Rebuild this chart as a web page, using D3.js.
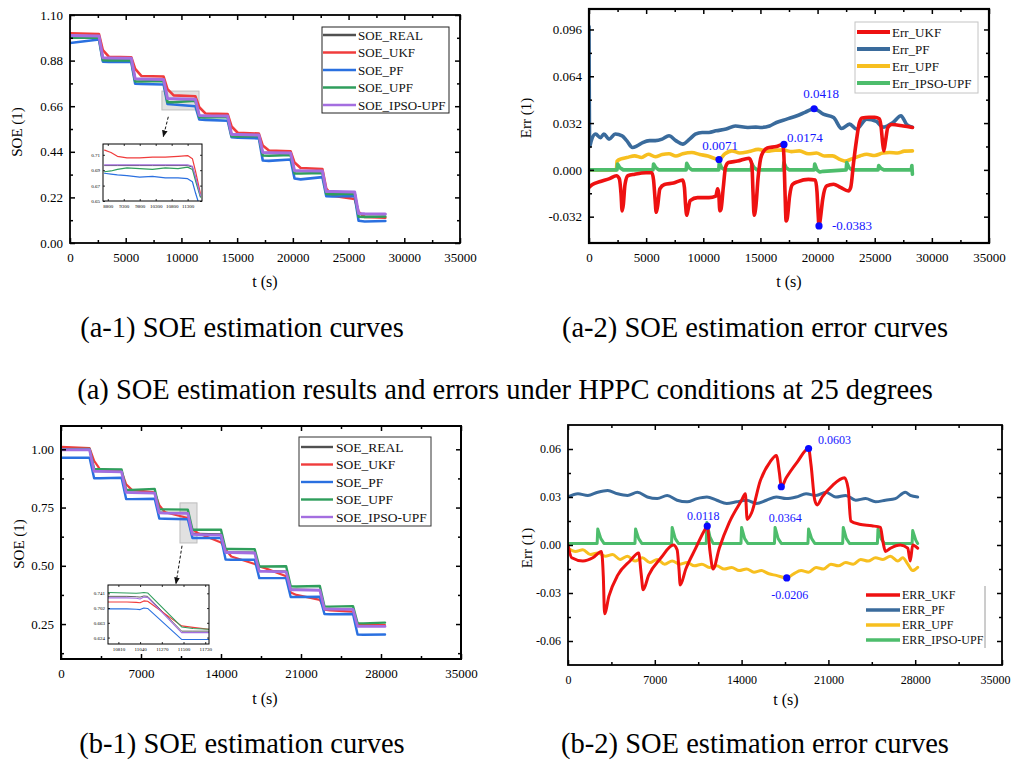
<!DOCTYPE html>
<html>
<head>
<meta charset="utf-8">
<script src="https://cdn.jsdelivr.net/npm/d3@7"></script>
<style>
  body { margin: 0; background: #fff; }
</style>
</head>
<body>
<div id="chart"></div>
<script>
'use strict';

// ---------- (a-1) SOE curves, HPPC 25 degrees ----------
const a1Time = [0, 2600, 2950, 3500, 5500, 5850, 6400, 8400, 8750, 9300, 11250, 11600, 12150, 14150, 14500, 15050, 16950, 17300, 17850, 19800, 20150, 20700, 22650, 23000, 23550, 25550, 25900, 26450, 28300];
const a1Real = [1.000, 0.998, 0.893, 0.892, 0.890, 0.791, 0.790, 0.788, 0.696, 0.695, 0.693, 0.614, 0.613, 0.612, 0.523, 0.522, 0.520, 0.436, 0.435, 0.433, 0.348, 0.347, 0.346, 0.248, 0.247, 0.245, 0.141, 0.140, 0.139];
const a1Ukf  = [1.012, 1.008, 0.930, 0.898, 0.896, 0.840, 0.806, 0.803, 0.742, 0.712, 0.708, 0.655, 0.625, 0.622, 0.562, 0.532, 0.528, 0.470, 0.446, 0.442, 0.388, 0.362, 0.357, 0.262, 0.228, 0.212, 0.150, 0.126, 0.122];
const a1Pf   = [0.965, 0.982, 0.875, 0.873, 0.873, 0.768, 0.767, 0.765, 0.671, 0.668, 0.660, 0.596, 0.594, 0.590, 0.511, 0.508, 0.505, 0.398, 0.396, 0.403, 0.311, 0.307, 0.318, 0.226, 0.224, 0.227, 0.107, 0.104, 0.106];
const a1Upf  = [0.990, 0.990, 0.882, 0.881, 0.882, 0.780, 0.779, 0.782, 0.679, 0.679, 0.686, 0.607, 0.606, 0.608, 0.515, 0.514, 0.516, 0.422, 0.421, 0.425, 0.336, 0.335, 0.338, 0.237, 0.236, 0.238, 0.127, 0.126, 0.128];
const a1Ipso = [1.001, 0.999, 0.894, 0.893, 0.891, 0.792, 0.791, 0.789, 0.697, 0.696, 0.694, 0.615, 0.614, 0.613, 0.524, 0.523, 0.521, 0.437, 0.436, 0.434, 0.349, 0.348, 0.347, 0.249, 0.248, 0.246, 0.142, 0.141, 0.140];

// zoomed window of (a-1)
const a1InsetTime = [8700, 8900, 9100, 9400, 9800, 10200, 10600, 11000, 11300, 11450, 11550, 11700];
const a1InsetReal = [0.696, 0.696, 0.696, 0.696, 0.696, 0.696, 0.696, 0.696, 0.696, 0.694, 0.680, 0.656];
const a1InsetUkf  = [0.716, 0.713, 0.708, 0.706, 0.706, 0.707, 0.707, 0.708, 0.709, 0.705, 0.688, 0.660];
const a1InsetPf   = [0.686, 0.685, 0.684, 0.683, 0.681, 0.682, 0.680, 0.680, 0.679, 0.675, 0.660, 0.640];
const a1InsetUpf  = [0.688, 0.689, 0.691, 0.693, 0.692, 0.691, 0.693, 0.692, 0.694, 0.691, 0.676, 0.655];
const a1InsetIpso = [0.697, 0.697, 0.697, 0.697, 0.697, 0.697, 0.697, 0.697, 0.697, 0.695, 0.681, 0.657];

// ---------- (a-2) SOE errors, HPPC 25 degrees ----------
const a2UkfTime = [0, 300, 1000, 1800, 2400, 2650, 2800, 2900, 3000, 3150, 3400, 4000, 5000, 5500, 5650, 5780, 5880, 6000, 6200, 6600, 7400, 8200, 8350, 8450, 8550, 8650, 8850, 9500, 10500, 11100, 11250, 11350, 11450, 11550, 11750, 11950, 12200, 13000, 14000, 14250, 14350, 14450, 14600, 14800, 15100, 15600, 16400, 16950, 17050, 17150, 17250, 17350, 17550, 17800, 18300, 19200, 19800, 19950, 20050, 20125, 20250, 20450, 20800, 21400, 22000, 22700, 22900, 23150, 23400, 23650, 23900, 24500, 25000, 25400, 25550, 25700, 25800, 25950, 26150, 26500, 27500, 28300];
const a2Ukf = [-0.012, -0.010, -0.008, -0.006, -0.004, -0.006, -0.016, -0.028, -0.024, -0.010, -0.004, -0.003, -0.002, -0.002, -0.007, -0.020, -0.029, -0.025, -0.013, -0.010, -0.009, -0.007, -0.012, -0.024, -0.031, -0.028, -0.021, -0.019, -0.019, -0.018, -0.013, -0.016, -0.028, -0.027, -0.012, 0.002, 0.005, 0.006, 0.008, 0.004, -0.015, -0.031, -0.025, -0.005, 0.010, 0.015, 0.016, 0.0174, 0.010, -0.015, -0.035, -0.033, -0.018, -0.010, -0.008, -0.0065, -0.007, -0.015, -0.030, -0.0383, -0.033, -0.020, -0.011, -0.0098, -0.012, -0.0144, -0.012, 0.005, 0.020, 0.032, 0.0355, 0.036, 0.036, 0.035, 0.030, 0.018, 0.013, 0.020, 0.029, 0.031, 0.030, 0.029];
const a2PfTime = [0, 60, 200, 580, 1000, 1300, 1750, 2300, 2900, 3300, 3800, 4200, 4700, 5300, 5800, 6400, 7000, 7600, 8200, 8800, 9300, 9900, 10500, 11100, 12000, 12800, 13900, 14600, 15000, 15800, 16400, 17300, 18200, 18900, 19700, 20500, 21400, 22100, 22800, 23400, 24300, 25150, 25700, 26600, 27300, 27800, 28300];
const a2Pf = [0.098, 0.016, 0.020, 0.0245, 0.022, 0.0245, 0.021, 0.0245, 0.0233, 0.020, 0.0153, 0.0164, 0.0187, 0.020, 0.020, 0.021, 0.0233, 0.020, 0.0176, 0.021, 0.0244, 0.0256, 0.0256, 0.0267, 0.0279, 0.030, 0.029, 0.0292, 0.029, 0.030, 0.0324, 0.0347, 0.037, 0.0393, 0.0418, 0.0381, 0.0358, 0.0283, 0.0313, 0.0279, 0.0347, 0.0331, 0.0292, 0.0324, 0.037, 0.031, 0.0292];
const a2UpfTime = [0, 2400, 2450, 2800, 3300, 4000, 4600, 5200, 5800, 6400, 7000, 7600, 8200, 9000, 9700, 10400, 11000, 11375, 11900, 12500, 13200, 14000, 14800, 15600, 16300, 17060, 17700, 18400, 19200, 19900, 20600, 21300, 22000, 22400, 23000, 23700, 24300, 25000, 25700, 26300, 27000, 27600, 28300];
const a2Upf = [0, 0, 0.006, 0.0075, 0.0084, 0.0096, 0.0085, 0.0107, 0.009, 0.0105, 0.011, 0.0095, 0.011, 0.0119, 0.0105, 0.0095, 0.0078, 0.0071, 0.011, 0.013, 0.0115, 0.0125, 0.014, 0.0128, 0.0135, 0.0135, 0.0125, 0.013, 0.011, 0.0115, 0.0095, 0.0096, 0.007, 0.006, 0.0075, 0.0095, 0.0107, 0.0098, 0.0115, 0.0119, 0.0115, 0.0128, 0.013];
const a2IpsoTime = [0, 2450, 2500, 2700, 3000, 5600, 5650, 5850, 6100, 8500, 8550, 8750, 9000, 11350, 11400, 11600, 11900, 14200, 14250, 14450, 14700, 17000, 17050, 17250, 17500, 19700, 19750, 19950, 20200, 20500, 22500, 22550, 22750, 23000, 25300, 25350, 25550, 25800, 28200, 28250, 28300];
const a2Ipso = [0, 0, 0.004, 0.0015, 0, 0, 0.004, 0.0015, 0, 0, 0.0045, 0.0015, 0, 0, 0.005, 0.0015, 0, 0, 0.004, 0.0015, 0, 0, 0.005, 0.0015, 0, 0, 0.004, 0, -0.0015, -0.001, 0, 0.005, 0.0015, 0, 0, 0.003, 0.001, 0, 0, 0.003, -0.003];
const a2MarkTime = [11375, 17060, 19700, 20125];
const a2MarkVal = [0.0071, 0.0174, 0.0418, -0.0383];

// ---------- (b-1) SOE curves ----------
const b1Time = [0, 2500, 2900, 3400, 5300, 5700, 6200, 8200, 8600, 9100, 11100, 11500, 12000, 14000, 14400, 14900, 16950, 17350, 17850, 19700, 20100, 20600, 22650, 23050, 23550, 25550, 25950, 26450, 28350];
const b1Real = [1.000, 0.999, 0.906, 0.905, 0.903, 0.816, 0.815, 0.813, 0.730, 0.729, 0.728, 0.639, 0.638, 0.636, 0.560, 0.559, 0.557, 0.479, 0.478, 0.476, 0.400, 0.399, 0.397, 0.317, 0.316, 0.315, 0.243, 0.242, 0.242];
const b1Ukf  = [1.010, 1.005, 0.950, 0.915, 0.905, 0.850, 0.826, 0.815, 0.760, 0.730, 0.705, 0.655, 0.640, 0.600, 0.570, 0.540, 0.508, 0.497, 0.490, 0.455, 0.385, 0.375, 0.354, 0.312, 0.309, 0.303, 0.250, 0.247, 0.245];
const b1Pf   = [0.964, 0.964, 0.876, 0.876, 0.878, 0.787, 0.786, 0.788, 0.703, 0.702, 0.700, 0.619, 0.619, 0.620, 0.527, 0.526, 0.526, 0.447, 0.447, 0.447, 0.366, 0.366, 0.367, 0.293, 0.292, 0.293, 0.205, 0.204, 0.205];
const b1Upf  = [1.000, 1.001, 0.915, 0.915, 0.913, 0.826, 0.826, 0.830, 0.742, 0.742, 0.741, 0.655, 0.655, 0.655, 0.572, 0.572, 0.571, 0.497, 0.497, 0.498, 0.412, 0.411, 0.413, 0.326, 0.325, 0.327, 0.254, 0.253, 0.256];
const b1Ipso = [0.998, 0.998, 0.905, 0.905, 0.903, 0.815, 0.814, 0.812, 0.727, 0.726, 0.725, 0.635, 0.634, 0.632, 0.557, 0.557, 0.555, 0.476, 0.476, 0.474, 0.397, 0.397, 0.395, 0.314, 0.314, 0.313, 0.240, 0.240, 0.240];

const b1InsetTime = [10700, 10900, 11000, 11040, 11080, 11120, 11480, 11600, 11770];
const b1InsetReal = [0.733, 0.733, 0.732, 0.731, 0.734, 0.733, 0.641, 0.641, 0.641];
const b1InsetUkf  = [0.718, 0.718, 0.717, 0.716, 0.721, 0.720, 0.655, 0.651, 0.646];
const b1InsetPf   = [0.700, 0.700, 0.699, 0.698, 0.702, 0.701, 0.619, 0.619, 0.619];
const b1InsetUpf  = [0.743, 0.742, 0.741, 0.742, 0.743, 0.742, 0.652, 0.648, 0.646];
const b1InsetIpso = [0.729, 0.729, 0.728, 0.726, 0.731, 0.730, 0.637, 0.637, 0.637];

// ---------- (b-2) SOE errors ----------
const b2UkfTime = [0, 300, 1200, 2000, 2700, 2850, 2950, 3300, 4000, 5000, 5700, 5900, 6060, 6500, 7500, 8500, 8800, 8950, 9050, 9500, 10300, 11000, 11230, 11450, 11700, 12200, 13000, 14000, 14300, 14450, 14800, 15500, 16300, 16800, 17050, 17200, 17600, 18500, 19400, 19600, 19900, 20100, 20500, 21300, 22300, 22600, 22800, 23500, 24500, 25200, 25400, 25600, 26000, 26800, 27400, 27600, 27800, 28200];
const b2Ukf = [0.0, -0.008, -0.010, -0.008, -0.004, -0.020, -0.043, -0.032, -0.019, -0.010, -0.005, -0.018, -0.028, -0.019, -0.008, 0.0, -0.003, -0.015, -0.025, -0.015, -0.002, 0.009, 0.0118, -0.004, -0.015, -0.002, 0.014, 0.028, 0.032, 0.016, 0.020, 0.040, 0.052, 0.056, 0.045, 0.0364, 0.042, 0.052, 0.0603, 0.050, 0.028, 0.025, 0.030, 0.037, 0.042, 0.035, 0.015, 0.013, 0.012, 0.011, 0.002, -0.004, -0.002, 0.0, -0.002, -0.010, 0.0, -0.002];
const b2PfTime = [0, 800, 1600, 2400, 3200, 4000, 4800, 5600, 6400, 7200, 8000, 8800, 9600, 10400, 11200, 12000, 12800, 13600, 14400, 15200, 16000, 16800, 17600, 18400, 19200, 20000, 20800, 21600, 22400, 23200, 24000, 24800, 25600, 26400, 27200, 27600, 28200];
const b2Pf = [0.030, 0.032, 0.031, 0.033, 0.034, 0.032, 0.031, 0.033, 0.030, 0.029, 0.031, 0.028, 0.027, 0.029, 0.030, 0.028, 0.026, 0.027, 0.028, 0.026, 0.028, 0.030, 0.029, 0.030, 0.032, 0.031, 0.033, 0.030, 0.031, 0.028, 0.029, 0.027, 0.028, 0.029, 0.033, 0.031, 0.030];
const b2UpfTime = [0, 600, 1200, 1800, 2400, 3000, 3600, 4200, 4800, 5400, 6000, 6600, 7200, 7800, 8400, 9000, 9600, 10200, 10800, 11400, 12000, 12600, 13200, 13800, 14400, 15000, 15600, 16200, 16800, 17640, 18200, 18800, 19400, 20000, 20600, 21200, 21800, 22400, 23000, 23600, 24200, 24800, 25400, 26000, 26600, 27000, 27400, 27800, 28200];
const b2Upf = [-0.002, -0.004, -0.003, -0.006, -0.005, -0.007, -0.006, -0.009, -0.007, -0.010, -0.008, -0.011, -0.009, -0.012, -0.010, -0.012, -0.011, -0.013, -0.012, -0.014, -0.013, -0.015, -0.014, -0.016, -0.015, -0.017, -0.016, -0.018, -0.019, -0.0206, -0.018, -0.016, -0.017, -0.014, -0.015, -0.012, -0.013, -0.011, -0.012, -0.009, -0.010, -0.008, -0.009, -0.007, -0.010, -0.008, -0.012, -0.016, -0.014];
const b2IpsoTime = [0, 2350, 2400, 2650, 2900, 5400, 5450, 5700, 5950, 8350, 8400, 8650, 8900, 11150, 11200, 11450, 11700, 13950, 14000, 14250, 14500, 16650, 16700, 16950, 17200, 19350, 19400, 19650, 19900, 22150, 22200, 22450, 22700, 24950, 25000, 25250, 25500, 27750, 27800, 28050, 28200];
const b2Ipso = [0.001, 0.001, 0.010, 0.004, 0.001, 0.001, 0.010, 0.004, 0.001, 0.001, 0.011, 0.004, 0.001, 0.001, 0.014, 0.005, 0.001, 0.001, 0.011, 0.004, 0.001, 0.001, 0.011, 0.004, 0.001, 0.001, 0.010, 0.004, 0.001, 0.001, 0.011, 0.004, 0.001, 0.001, 0.010, 0.004, 0.001, 0.001, 0.009, 0.003, 0.001];
const b2MarkTime = [11230, 17200, 19400, 17640];
const b2MarkVal = [0.0118, 0.0364, 0.0603, -0.0206];

// legend names and colours
const soeNames = ['SOE_REAL', 'SOE_UKF', 'SOE_PF', 'SOE_UPF', 'SOE_IPSO-UPF'];
const soeColors = ['#505050', '#f03c3c', '#2a70e0', '#2f9e5c', '#a46ee0'];
const a2Names = ['Err_UKF', 'Err_PF', 'Err_UPF', 'Err_IPSO-UPF'];
const b2Names = ['ERR_UKF', 'ERR_PF', 'ERR_UPF', 'ERR_IPSO-UPF'];
const errColors = ['#ee1111', '#3a6b9c', '#f7bf1f', '#4dbd6c'];

const captions = ['(a-1) SOE estimation curves', '(a-2) SOE estimation error curves',
  '(a) SOE estimation results and errors under HPPC conditions at 25 degrees',
  '(b-1) SOE estimation curves', '(b-2) SOE estimation error curves'];

const SERIF = "'Liberation Serif', 'Times New Roman', serif";
const LABEL_BLUE = '#1515ff';

const svg = d3.select('#chart').append('svg')
  .attr('width', 1011).attr('height', 760)
  .attr('font-family', SERIF);
svg.append('rect').attr('width', 1011).attr('height', 760).attr('fill', '#fff');

const defs = svg.append('defs');
defs.append('marker').attr('id', 'arrow')
  .attr('viewBox', '0 0 10 10').attr('refX', 9).attr('refY', 5)
  .attr('markerWidth', 7).attr('markerHeight', 7).attr('orient', 'auto')
  .append('path').attr('d', 'M0,1 L10,5 L0,9 Z').attr('fill', '#111');

let clipCount = 0;
function makePanel(box, xDomain, yDomain) {
  const x = d3.scaleLinear().domain(xDomain).range([box.l, box.r]);
  const y = d3.scaleLinear().domain(yDomain).range([box.b, box.t]);
  const id = 'clip' + (clipCount++);
  defs.append('clipPath').attr('id', id).append('rect')
    .attr('x', box.l).attr('y', box.t).attr('width', box.r - box.l).attr('height', box.b - box.t);
  const root = svg.append('g');
  const plot = root.append('g').attr('clip-path', `url(#${id})`);
  return { x, y, box, root, plot };
}

function drawAxes(p, o) {
  const { x, y, box } = p;
  const g = p.root.append('g');
  const tk = o.tick, mt = o.minorTick, fs = o.fontSize, sw = o.sw;
  function add(axis, tx, ty) {
    const a = g.append('g').attr('transform', `translate(${tx},${ty})`).call(axis);
    a.select('.domain').remove();
    a.attr('font-family', SERIF).attr('font-size', fs);
    a.selectAll('line').attr('stroke', '#000').attr('stroke-width', sw);
    a.selectAll('text').attr('fill', '#000');
    return a;
  }
  const bottom = add(d3.axisBottom(x).tickValues(o.xMajor).tickSize(-tk).tickPadding(o.xPad).tickFormat(o.xFmt), 0, box.b);
  add(d3.axisTop(x).tickValues(o.xMajor).tickSize(-tk).tickFormat(''), 0, box.t);
  add(d3.axisLeft(y).tickValues(o.yMajor).tickSize(-tk).tickPadding(o.yPad).tickFormat(o.yFmt), box.l, 0);
  add(d3.axisRight(y).tickValues(o.yMajor).tickSize(-tk).tickFormat(''), box.r, 0);
  if (o.xMinor) {
    add(d3.axisBottom(x).tickValues(o.xMinor).tickSize(-mt).tickFormat(''), 0, box.b);
    add(d3.axisTop(x).tickValues(o.xMinor).tickSize(-mt).tickFormat(''), 0, box.t);
  }
  if (o.yMinor) {
    add(d3.axisLeft(y).tickValues(o.yMinor).tickSize(-mt).tickFormat(''), box.l, 0);
    add(d3.axisRight(y).tickValues(o.yMinor).tickSize(-mt).tickFormat(''), box.r, 0);
  }
  g.append('rect').attr('x', box.l).attr('y', box.t)
    .attr('width', box.r - box.l).attr('height', box.b - box.t)
    .attr('fill', 'none').attr('stroke', '#000').attr('stroke-width', o.frame);
  return bottom;
}

function drawSeries(p, ts, vs, color, width, curve) {
  const pts = ts.map((t, i) => [t, vs[i]]);
  p.plot.append('path').datum(pts)
    .attr('fill', 'none').attr('stroke', color).attr('stroke-width', width)
    .attr('stroke-linejoin', 'round').attr('stroke-linecap', 'round')
    .attr('d', d3.line().x(d => p.x(d[0])).y(d => p.y(d[1])).curve(curve || d3.curveLinear));
}

function axisTitles(p, xTitle, xPos, yTitle, yPos) {
  p.root.append('text').attr('x', xPos[0]).attr('y', xPos[1])
    .attr('text-anchor', 'middle').attr('font-size', 16).text(xTitle);
  p.root.append('text').attr('transform', `translate(${yPos[0]},${yPos[1]}) rotate(-90)`)
    .attr('text-anchor', 'middle').attr('font-size', 15).text(yTitle);
}

function drawLegend(names, colors, o) {
  const g = svg.append('g');
  if (o.box) {
    g.append('rect').attr('x', o.box[0]).attr('y', o.box[1])
      .attr('width', o.box[2] - o.box[0]).attr('height', o.box[3] - o.box[1])
      .attr('fill', '#fff').attr('stroke', o.stroke).attr('stroke-width', 1);
  }
  names.forEach((n, i) => {
    const yy = o.y0 + i * o.dy;
    g.append('line').attr('x1', o.lx[0]).attr('x2', o.lx[1]).attr('y1', yy).attr('y2', yy)
      .attr('stroke', colors[i]).attr('stroke-width', o.lw);
    g.append('text').attr('x', o.tx).attr('y', yy).attr('dy', '0.35em')
      .attr('font-size', o.fs).attr('fill', '#111').text(n);
  });
  return g;
}

function markPoints(p, ts, vs, offsets, fs) {
  ts.forEach((t, i) => {
    p.root.append('circle').attr('cx', p.x(t)).attr('cy', p.y(vs[i])).attr('r', 3.6).attr('fill', '#0a0aff');
    p.root.append('text').attr('x', p.x(t) + offsets[i][0]).attr('y', p.y(vs[i]) + offsets[i][1])
      .attr('text-anchor', 'middle').attr('font-size', fs).attr('fill', LABEL_BLUE)
      .text(vs[i].toFixed(4));
  });
}

const fmtInt = d3.format('d');
const fmtFix = n => (d => d.toFixed(n));

// ================= (a-1) =================
const a1 = makePanel({ l: 70, r: 460, t: 15, b: 243 }, [0, 35000], [0, 1.10]);
// highlighted zoom window
a1.plot.append('rect')
  .attr('x', a1.x(8250)).attr('y', a1.y(0.733))
  .attr('width', a1.x(11580) - a1.x(8250)).attr('height', a1.y(0.642) - a1.y(0.733))
  .attr('fill', '#d4d4d4').attr('fill-opacity', 0.7).attr('stroke', '#bdbdbd');
drawSeries(a1, a1Time, a1Real, soeColors[0], 2);
drawSeries(a1, a1Time, a1Ukf, soeColors[1], 2.6);
drawSeries(a1, a1Time, a1Pf, soeColors[2], 2.6);
drawSeries(a1, a1Time, a1Upf, soeColors[3], 2.6);
drawSeries(a1, a1Time, a1Ipso, soeColors[4], 3);
drawAxes(a1, {
  tick: 5, minorTick: 3, fontSize: 13, sw: 1.5, frame: 1.8, xPad: 10, yPad: 7,
  xMajor: d3.range(0, 35001, 5000), xMinor: d3.range(2500, 35000, 5000), xFmt: fmtInt,
  yMajor: [0, 0.22, 0.44, 0.66, 0.88, 1.10], yMinor: [0.11, 0.33, 0.55, 0.77, 0.99], yFmt: fmtFix(2)
});
axisTitles(a1, 't (s)', [265, 287], 'SOE (1)', [22, 132]);
a1.root.append('line')
  .attr('x1', a1.x(8822)).attr('y1', a1.y(0.609)).attr('x2', a1.x(8373)).attr('y2', a1.y(0.513))
  .attr('stroke', '#111').attr('stroke-width', 1).attr('stroke-dasharray', '3,2')
  .attr('marker-end', 'url(#arrow)');

// inset of (a-1)
const a1In = makePanel({ l: 103, r: 202, t: 144, b: 201 }, [8650, 11750], [0.65, 0.724]);
a1In.root.insert('rect', ':first-child').attr('x', 103).attr('y', 144).attr('width', 99).attr('height', 57).attr('fill', '#fff');
drawSeries(a1In, a1InsetTime, a1InsetReal, soeColors[0], 1);
drawSeries(a1In, a1InsetTime, a1InsetUkf, soeColors[1], 1.2);
drawSeries(a1In, a1InsetTime, a1InsetPf, soeColors[2], 1.2);
drawSeries(a1In, a1InsetTime, a1InsetUpf, soeColors[3], 1.2);
drawSeries(a1In, a1InsetTime, a1InsetIpso, soeColors[4], 1.2);
drawAxes(a1In, {
  tick: 2, minorTick: 1, fontSize: 5, sw: 0.8, frame: 1, xPad: 3, yPad: 3,
  xMajor: [8800, 9300, 9800, 10300, 10800, 11300], xFmt: fmtInt,
  yMajor: [0.65, 0.67, 0.69, 0.71], yFmt: fmtFix(2)
});

drawLegend(soeNames, soeColors, {
  box: [322, 27, 449, 113], stroke: '#222', y0: 35, dy: 17.5, lx: [323, 356], tx: 358, lw: 2.6, fs: 13
});

// ================= (a-2) =================
const a2 = makePanel({ l: 589, r: 989, t: 9, b: 243 }, [0, 35000], [-0.05, 0.11]);
drawSeries(a2, a2PfTime, a2Pf, errColors[1], 3.6, d3.curveMonotoneX);
drawSeries(a2, a2UpfTime, a2Upf, errColors[2], 3.6, d3.curveMonotoneX);
drawSeries(a2, a2IpsoTime, a2Ipso, errColors[3], 3.6);
drawSeries(a2, a2UkfTime, a2Ukf, errColors[0], 3.6, d3.curveMonotoneX);
drawAxes(a2, {
  tick: 5, minorTick: 3, fontSize: 13, sw: 1.5, frame: 2.2, xPad: 10, yPad: 7,
  xMajor: d3.range(0, 35001, 5000), xMinor: d3.range(2500, 35000, 5000), xFmt: fmtInt,
  yMajor: [-0.032, 0, 0.032, 0.064, 0.096], yMinor: [-0.016, 0.016, 0.048, 0.080], yFmt: fmtFix(3)
});
axisTitles(a2, 't (s)', [789, 287], 'Err (1)', [531, 118]);
markPoints(a2, a2MarkTime, a2MarkVal, [[1, -9], [21, -2], [7, -11], [33, 4]], 13);
drawLegend(a2Names, errColors, {
  box: [855, 22, 978, 93], stroke: '#c4c4c4', y0: 32, dy: 17, lx: [857, 890], tx: 892, lw: 4, fs: 13
});

// ================= (b-1) =================
const b1 = makePanel({ l: 61, r: 461, t: 426, b: 659 }, [0, 35000], [0.1, 1.1]);
b1.plot.append('rect')
  .attr('x', b1.x(10410)).attr('y', b1.y(0.77))
  .attr('width', b1.x(11900) - b1.x(10410)).attr('height', b1.y(0.598) - b1.y(0.77))
  .attr('fill', '#d4d4d4').attr('fill-opacity', 0.7).attr('stroke', '#bdbdbd');
drawSeries(b1, b1Time, b1Real, soeColors[0], 1.8);
drawSeries(b1, b1Time, b1Ukf, soeColors[1], 2.2);
drawSeries(b1, b1Time, b1Pf, soeColors[2], 2.4);
drawSeries(b1, b1Time, b1Upf, soeColors[3], 2.4);
drawSeries(b1, b1Time, b1Ipso, soeColors[4], 2.8);
drawAxes(b1, {
  tick: 5, minorTick: 3, fontSize: 13, sw: 1.5, frame: 2, xPad: 10, yPad: 7,
  xMajor: d3.range(0, 35001, 7000), xMinor: d3.range(3500, 35000, 7000), xFmt: fmtInt,
  yMajor: [0.25, 0.5, 0.75, 1.0], yMinor: [0.125, 0.375, 0.625, 0.875], yFmt: fmtFix(2)
});
axisTitles(b1, 't (s)', [265, 704], 'SOE (1)', [24, 544]);
b1.root.append('line')
  .attr('x1', b1.x(10590)).attr('y1', b1.y(0.586)).attr('x2', b1.x(10060)).attr('y2', b1.y(0.423))
  .attr('stroke', '#111').attr('stroke-width', 1).attr('stroke-dasharray', '3,2')
  .attr('marker-end', 'url(#arrow)');

const b1In = makePanel({ l: 108, r: 209, t: 585, b: 644 }, [10700, 11770], [0.607, 0.763]);
b1In.root.insert('rect', ':first-child').attr('x', 108).attr('y', 585).attr('width', 101).attr('height', 59).attr('fill', '#fff');
drawSeries(b1In, b1InsetTime, b1InsetReal, soeColors[0], 0.9);
drawSeries(b1In, b1InsetTime, b1InsetUkf, soeColors[1], 1.1);
drawSeries(b1In, b1InsetTime, b1InsetPf, soeColors[2], 1.1);
drawSeries(b1In, b1InsetTime, b1InsetUpf, soeColors[3], 1.1);
drawSeries(b1In, b1InsetTime, b1InsetIpso, soeColors[4], 1.1);
drawAxes(b1In, {
  tick: 2, minorTick: 1, fontSize: 5, sw: 0.8, frame: 1, xPad: 3, yPad: 3,
  xMajor: [10810, 11040, 11270, 11500, 11730], xFmt: fmtInt,
  yMajor: [0.624, 0.663, 0.702, 0.741], yFmt: fmtFix(3)
});

drawLegend(soeNames, soeColors, {
  box: [299, 437, 431, 526], stroke: '#333', y0: 447, dy: 17.5, lx: [301, 333], tx: 336, lw: 2.4, fs: 13.5
});

// ================= (b-2) =================
const b2 = makePanel({ l: 568, r: 1002, t: 425, b: 665 }, [0, 35000], [-0.075, 0.075]);
drawSeries(b2, b2PfTime, b2Pf, errColors[1], 3, d3.curveMonotoneX);
drawSeries(b2, b2UpfTime, b2Upf, errColors[2], 3, d3.curveMonotoneX);
drawSeries(b2, b2IpsoTime, b2Ipso, errColors[3], 3);
drawSeries(b2, b2UkfTime, b2Ukf, errColors[0], 3, d3.curveMonotoneX);
const b2Bottom = drawAxes(b2, {
  tick: 5, minorTick: 3, fontSize: 12, sw: 1.5, frame: 1.8, xPad: 10, yPad: 7,
  xMajor: d3.range(0, 35001, 7000), xMinor: d3.range(3500, 35000, 7000), xFmt: fmtInt,
  yMajor: [-0.06, -0.03, 0, 0.03, 0.06], yMinor: [-0.045, -0.015, 0.015, 0.045], yFmt: fmtFix(2)
});
// last tick label sits at the page edge: keep it inside
b2Bottom.selectAll('.tick').filter(d => d === 35000).select('text')
  .attr('text-anchor', 'end').attr('x', 8);
axisTitles(b2, 't (s)', [786, 705], 'Err (1)', [532, 548]);
markPoints(b2, b2MarkTime, b2MarkVal, [[-4, -6], [4, 35], [26, -5], [3, 21]], 12);
const b2Leg = drawLegend(b2Names, errColors, {
  y0: 595, dy: 15, lx: [866, 900], tx: 902, lw: 3.5, fs: 12
});
b2Leg.append('line').attr('x1', 985).attr('x2', 985).attr('y1', 586).attr('y2', 648)
  .attr('stroke', '#9a9a9a').attr('stroke-width', 1);

// ================= captions =================
const capPos = [[242, 337], [755, 337], [505, 399], [242, 753], [755, 753]];
captions.forEach((c, i) => {
  svg.append('text').attr('x', capPos[i][0]).attr('y', capPos[i][1])
    .attr('text-anchor', 'middle').attr('font-size', 28.5).attr('fill', '#000').text(c);
});
</script>
</body>
</html>
